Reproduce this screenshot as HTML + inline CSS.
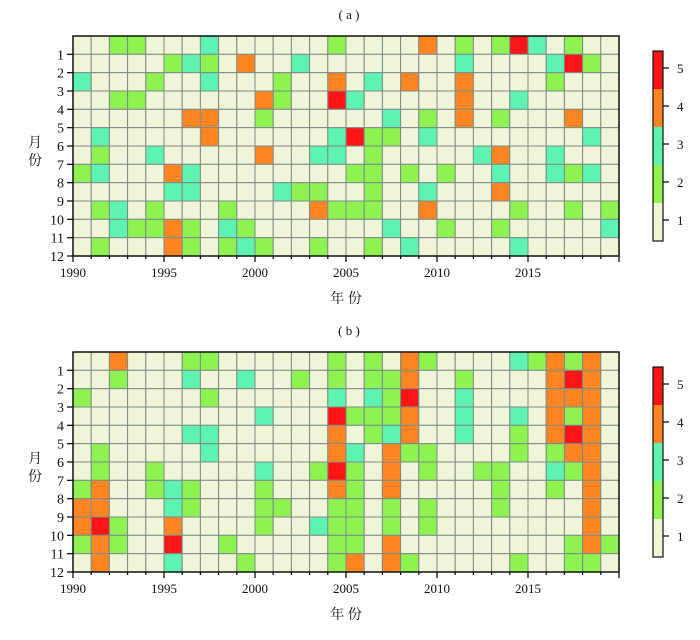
<!DOCTYPE html>
<html><head><meta charset="utf-8"><style>
body{margin:0;background:#fff;width:700px;height:635px;overflow:hidden}
svg text{font-family:"Liberation Serif","Noto Serif CJK SC",serif;fill:#111}
</style></head><body>
<svg id="s" width="700" height="635" xmlns="http://www.w3.org/2000/svg"></svg>
<script>
const C=['#eff5d6','#8ef250','#5ef3b2','#fe8522','#fe1616'];
const A={
1:{2:1,3:1,7:2,14:1,19:3,21:1,23:1,24:4,25:2,27:1},
2:{5:1,6:2,7:1,9:3,12:2,21:2,26:2,27:4,28:1},
3:{0:2,4:1,7:2,11:1,14:3,16:2,18:3,21:3,26:1},
4:{2:1,3:1,10:3,11:1,14:4,15:2,21:3,24:2},
5:{6:3,7:3,10:1,17:2,19:1,21:3,23:1,27:3},
6:{1:2,7:3,14:2,15:4,16:1,17:1,19:2,28:2},
7:{1:1,4:2,10:3,13:2,14:2,16:1,22:2,23:3,26:2},
8:{0:1,1:2,5:3,6:2,15:1,16:1,18:1,20:1,23:2,26:2,27:1,28:2},
9:{5:2,6:2,11:2,12:1,13:1,16:1,19:2,23:3},
10:{1:1,2:2,4:1,8:1,13:3,14:1,15:1,16:1,19:3,24:1,27:1,29:1},
11:{2:2,3:1,4:1,5:3,6:1,8:2,9:1,17:2,20:1,23:1,29:2},
12:{1:1,5:3,6:1,8:1,9:2,10:1,13:1,16:1,18:2,24:2}};
const B={
1:{2:3,6:1,7:1,14:1,16:1,18:3,19:1,24:2,25:1,26:3,27:1,28:3},
2:{2:1,6:2,9:2,12:1,14:1,16:1,17:1,18:3,21:1,26:3,27:4,28:3},
3:{0:1,7:1,14:2,16:2,17:1,18:4,21:2,26:3,27:3,28:3},
4:{10:2,14:4,15:1,16:1,17:1,18:3,21:2,24:2,26:3,27:1,28:3},
5:{6:2,7:2,14:3,16:1,17:2,18:3,21:2,24:1,26:3,27:4,28:3},
6:{1:1,7:2,14:3,15:2,17:3,18:1,19:1,24:1,26:1,27:3,28:3},
7:{1:1,4:1,10:2,13:1,14:4,15:1,17:3,19:1,22:1,23:1,26:2,27:1,28:3},
8:{0:1,1:3,4:1,5:2,6:1,10:1,14:3,15:1,17:3,23:1,26:1,28:3},
9:{0:3,1:3,5:2,6:1,10:1,11:1,14:1,15:1,17:1,19:1,23:1,28:3},
10:{0:3,1:4,2:1,5:3,10:1,13:2,14:1,15:1,17:1,19:1,28:3},
11:{0:1,1:3,2:1,5:4,8:1,14:1,15:1,17:3,27:1,28:3,29:1},
12:{1:3,5:2,9:1,14:1,15:3,17:3,18:1,24:1,27:1,28:1}};
let h='';
const X0=73,X1=619,W=(X1-X0)/30;
function panel(D,Y0,lab){
 const Y1=Y0+220,H=220/12;
 h+=`<text x="349" y="${Y0-17}" font-size="13" text-anchor="middle">( ${lab} )</text>`;
 for(let r=1;r<=12;r++)for(let c=0;c<30;c++){
  const v=(D[r]&&D[r][c])||0;
  h+=`<rect x="${X0+c*W}" y="${Y0+(r-1)*H}" width="${W}" height="${H}" fill="${C[v]}" stroke="#7d8b8b" stroke-width="1"/>`;}
 h+=`<rect x="${X0}" y="${Y0}" width="${X1-X0}" height="220" fill="none" stroke="#111" stroke-width="1.5"/>`;
 for(let r=1;r<=12;r++){const y=Y0+r*H;h+=`<line x1="${X0-6}" y1="${y}" x2="${X0}" y2="${y}" stroke="#111" stroke-width="1.3"/><text x="${X0-9}" y="${y+5}" font-size="14" text-anchor="end">${r}</text>`;}
 for(let c=0;c<=30;c++){const x=X0+c*W,mj=c%5==0;h+=`<line x1="${x}" y1="${Y1}" x2="${x}" y2="${Y1+(mj?6:3)}" stroke="#111" stroke-width="1.3"/>`;
  if(mj&&c<30)h+=`<text x="${x}" y="${Y1+21}" font-size="13" text-anchor="middle">${1990+c}</text>`;}
 h+=`<text x="346" y="${Y1+47}" font-size="14" text-anchor="middle">年 份</text>`;
 h+=`<text x="35" y="${Y0+111}" font-size="14" text-anchor="middle">月</text><text x="35" y="${Y0+129}" font-size="14" text-anchor="middle">份</text>`;
 const cy=Y0+15,ch=190/5;
 for(let i=0;i<5;i++){h+=`<rect x="653" y="${cy+i*ch}" width="10" height="${ch}" fill="${C[4-i]}"/>`;
  const ty=cy+i*ch+ch/2+(i==0?-2:i==4?0:0);
  h+=`<line x1="663" y1="${cy+i*ch+17}" x2="669" y2="${cy+i*ch+17}" stroke="#111" stroke-width="1.3"/><text x="677" y="${cy+i*ch+22}" font-size="13">${5-i}</text>`;}
 h+=`<rect x="653" y="${cy}" width="10" height="190" fill="none" stroke="#111" stroke-width="1.2"/>`;
}
panel(A,36,'a');panel(B,352,'b');
document.getElementById('s').innerHTML=h;
</script>
</body></html>
